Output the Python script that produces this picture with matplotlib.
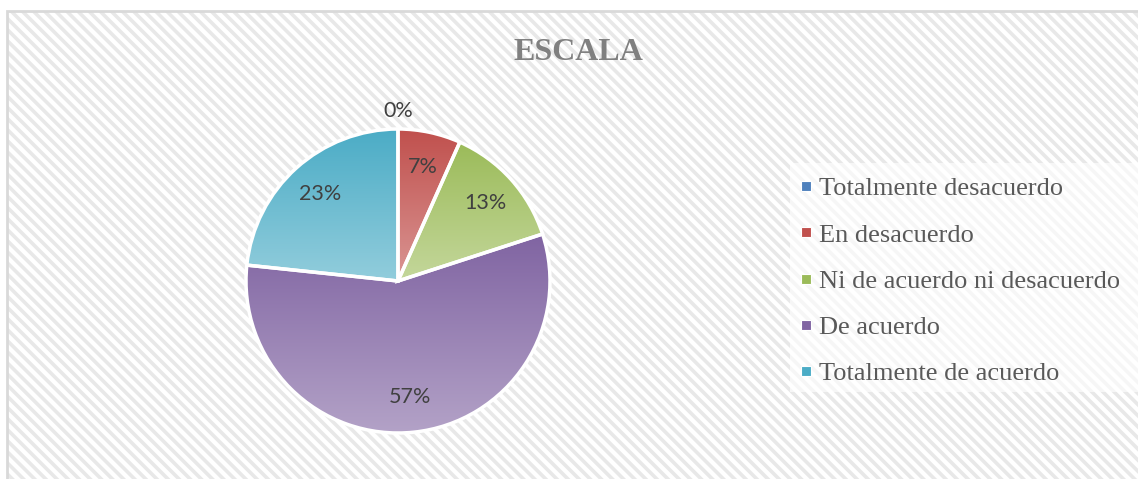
import numpy as np
import matplotlib
matplotlib.use('Agg')
import matplotlib.pyplot as plt
from matplotlib.patches import Rectangle
from matplotlib.lines import Line2D
from matplotlib.colors import to_rgb

# datos
categorias = ['Totalmente desacuerdo', 'En desacuerdo', 'Ni de acuerdo ni desacuerdo',
              'De acuerdo', 'Totalmente de acuerdo']
respuestas = [0, 2, 4, 17, 7]
col_top = ['#4F81BD', '#C0504D', '#9BBB59', '#8064A2', '#4BACC6']
col_bot = ['#95B3D7', '#DA9694', '#C4D79B', '#B3A2C7', '#92CDDC']

plt.rcParams['hatch.linewidth'] = 2.6

W, H = 1138, 479
fig = plt.figure(figsize=(W / 100, H / 100), dpi=100)
fig.patch.set_facecolor('white')

# fondo rayado + borde
fig.patches.append(Rectangle((7 / W, 0), 1, 1 - 11 / H, transform=fig.transFigure,
                             facecolor='white', edgecolor='#e8e8e8', hatch='\\\\\\',
                             linewidth=0, zorder=0))
fig.patches.append(Rectangle((7 / W, -0.1), 1, 1.1 - 11 / H, transform=fig.transFigure,
                             facecolor='none', edgecolor='#d9d9d9', linewidth=2, zorder=1))
# fondo de la leyenda
fig.patches.append(Rectangle((790 / W, 1 - 392 / H), 1, (392 - 163) / H,
                             transform=fig.transFigure, facecolor='white', alpha=0.65,
                             edgecolor='none', zorder=1))

# pastel
r_px = 152
cx, cy = 398, 281
half = 170
ax = fig.add_axes([(cx - half) / W, 1 - (cy + half) / H, 2 * half / W, 2 * half / H])
ax.set_zorder(2)
lim = half / r_px

wedges, texts, autotexts = ax.pie(respuestas, startangle=90, counterclock=False,
                                  autopct=lambda p: '%.0f%%' % p, pctdistance=0.77,
                                  wedgeprops=dict(edgecolor='white', linewidth=2.5,
                                                  facecolor='none'),
                                  textprops=dict(family='Lato', fontsize=15.5, color='#404040'))

for w, c0, c1 in zip(wedges, col_top, col_bot):
    ext = w.get_path().get_extents()
    if ext.height < 1e-6 or ext.width < 1e-6:
        continue
    t = np.linspace(0, 1, 256)[:, None]
    grad = (1 - t) * np.array(to_rgb(c0)) + t * np.array(to_rgb(c1))
    im = ax.imshow(grad[:, None, :], extent=(ext.x0, ext.x1, ext.y0, ext.y1),
                   origin='upper', aspect='auto', zorder=1, interpolation='bilinear')
    im.set_clip_path(w)
    w.set_zorder(2)

for t in autotexts:
    t.set_zorder(3)
# etiqueta del 0% fuera del pastel
x, y = autotexts[0].get_position()
autotexts[0].set_position((x / 0.77 * 1.12, y / 0.77 * 1.12))

ax.set_xlim(-lim, lim)
ax.set_ylim(-lim, lim)
ax.set_aspect('equal')
ax.axis('off')

fig.text(578 / W, 1 - 52 / H, 'ESCALA', family='Liberation Serif', fontweight='bold',
         fontsize=23, color='#808080', ha='center', va='center', zorder=3)

handles = [Line2D([], [], marker='s', linestyle='none', markersize=7,
                  markerfacecolor=c, markeredgecolor='white', markeredgewidth=0.8)
           for c in col_top]
leg = fig.legend(handles, categorias, loc='center left',
                 bbox_to_anchor=(798 / W, 1 - 281 / H), frameon=False,
                 prop=dict(family='Liberation Serif', size=19), labelcolor='#595959',
                 handlelength=0.6, handletextpad=0.2, labelspacing=0.86,
                 borderpad=0, borderaxespad=0)
leg.set_zorder(4)

fig.savefig('out.png', dpi=100)
